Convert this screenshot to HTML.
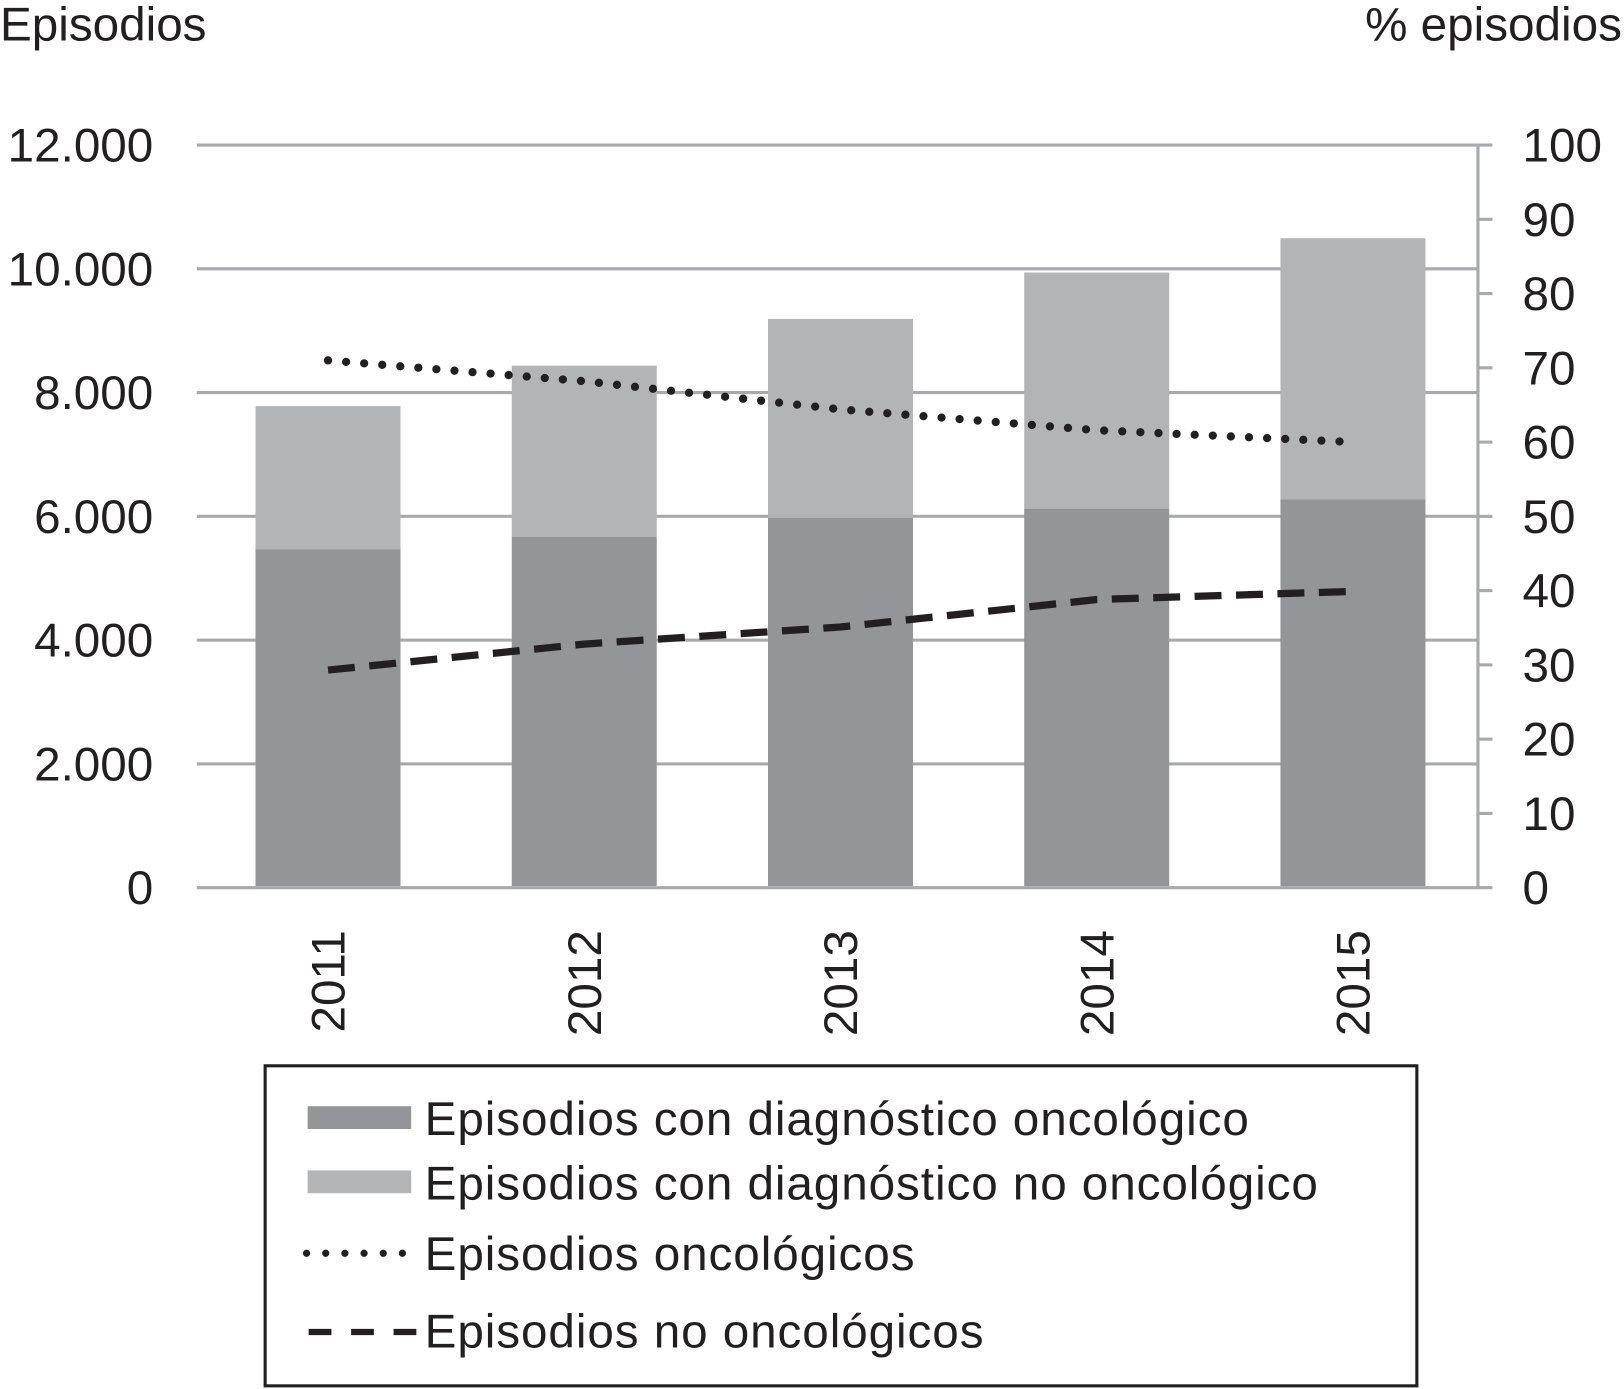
<!DOCTYPE html>
<html><head><meta charset="utf-8"><style>
html,body{margin:0;padding:0;background:#fff;}
svg{display:block;font-family:"Liberation Sans",Arial,sans-serif;}
</style></head><body>
<svg id="chart" width="1624" height="1389" viewBox="0 0 1568 1341" xmlns="http://www.w3.org/2000/svg">
<text x="0" y="39" font-size="46" fill="#231f20">Episodios</text>
<text x="1566" y="39" font-size="46" fill="#231f20" text-anchor="end">% episodios</text>
<g id="grid"></g>
<g id="bars"></g>
<g id="lines"></g>
<g id="axes"></g>
<g letter-spacing="0.9">
<rect x="256" y="1029" width="1112" height="309" fill="none" stroke="#231f20" stroke-width="3"/>
<rect x="297" y="1068" width="100" height="22" fill="#939598"/>
<text x="410" y="1096" font-size="46" fill="#231f20">Episodios con diagnóstico oncológico</text>
<rect x="297" y="1130" width="100" height="22" fill="#b3b4b6"/>
<text x="410" y="1158" font-size="46" fill="#231f20">Episodios con diagnóstico no oncológico</text>
<line x1="296" y1="1210" x2="400" y2="1210" stroke="#231f20" stroke-width="7" stroke-linecap="round" stroke-dasharray="0 18.5"/>
<text x="410" y="1226" font-size="46" fill="#231f20">Episodios oncológicos</text>
<line x1="298" y1="1286" x2="402" y2="1286" stroke="#231f20" stroke-width="6" stroke-dasharray="22 19"/>
<text x="410" y="1301" font-size="46" fill="#231f20">Episodios no oncológicos</text>
</g>
</svg>
<script>
const years = ["2011","2012","2013","2014","2015"];
const oncologico = [5470, 5670, 5975, 6125, 6275];
const totalEpisodios = [7780, 8435, 9190, 9940, 10495];
const pctOncologicos = [71.0, 68.2, 64.4, 61.6, 60.0];
const pctNoOncologicos = [29.3, 32.8, 35.1, 38.8, 39.9];
const leftTicks = [0,2000,4000,6000,8000,10000,12000];
const leftTickLabels = ["0","2.000","4.000","6.000","8.000","10.000","12.000"];
const rightTicks = [0,10,20,30,40,50,60,70,80,90,100];

const NS="http://www.w3.org/2000/svg";
const X0=190, X1=1427, Y0=857, Y1=140;
const band=(X1-X0)/years.length;
const xc=i=>X0+band*(i+0.5)+3;
const yL=v=>Y0-(v/12000)*(Y0-Y1);
const yR=v=>Y0-(v/100)*(Y0-Y1);
function mk(tag,attrs,parent){const e=document.createElementNS(NS,tag);for(const k in attrs)e.setAttribute(k,attrs[k]);document.getElementById(parent).appendChild(e);return e;}

leftTicks.forEach((t,i)=>{
  const g=mk('line',{x1:X0,x2:X1,y1:yL(t),y2:yL(t),stroke:'#a7a9ac','stroke-width':3},'grid');
  
  
  const tx=mk('text',{x:148,y:yL(t)+16,'font-size':46,fill:'#231f20','text-anchor':'end'},'axes');
  tx.textContent=leftTickLabels[i];
  
  
});
const ax=mk('line',{x1:X1,x2:X1,y1:Y1,y2:Y0,stroke:'#a7a9ac','stroke-width':3},'axes');


rightTicks.forEach(t=>{
  const tk=mk('line',{x1:X1,x2:X1+14,y1:yR(t),y2:yR(t),stroke:'#a7a9ac','stroke-width':3},'axes');
  
  
  const tx=mk('text',{x:1470,y:yR(t)+16,'font-size':46,fill:'#231f20'},'axes');
  tx.textContent=String(t);
  
  
});
const bw=140;
years.forEach((yr,i)=>{
  const x=xc(i)-bw/2;
  const b1=mk('rect',{x:x,y:yL(totalEpisodios[i]),width:bw,height:yL(oncologico[i])-yL(totalEpisodios[i]),fill:'#b3b4b6'},'bars');
  
  
  const b2=mk('rect',{x:x,y:yL(oncologico[i]),width:bw,height:Y0-1.5-yL(oncologico[i]),fill:'#939598'},'bars');
  
  
  const tx=mk('text',{x:0,y:0,'font-size':46,fill:'#231f20','text-anchor':'end',transform:'translate('+(xc(i)+16)+',898) rotate(-90)'},'axes');
  tx.textContent=yr;
  
  
});
const p1=mk('polyline',{points:pctOncologicos.map((v,i)=>xc(i)+','+yR(v)).join(' '),fill:'none',stroke:'#231f20','stroke-width':8,'stroke-linecap':'round','stroke-dasharray':'0 17.5'},'lines');


const p2=mk('polyline',{points:pctNoOncologicos.map((v,i)=>xc(i)+','+yR(v)).join(' '),fill:'none',stroke:'#231f20','stroke-width':7,'stroke-dasharray':'26 14'},'lines');


</script>
</body></html>
